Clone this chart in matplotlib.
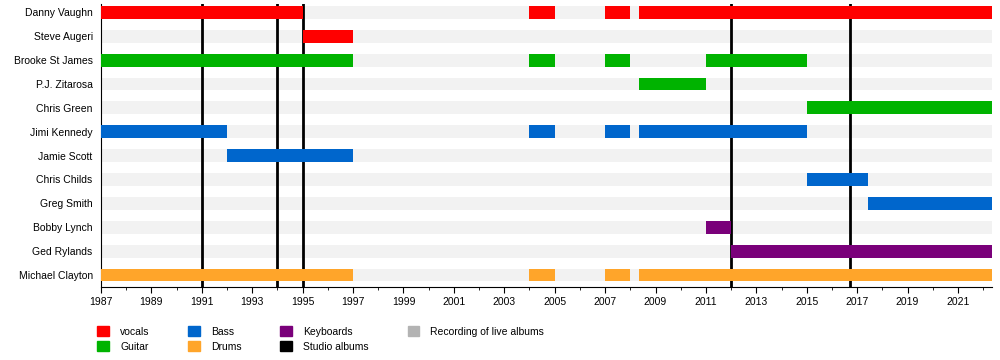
import matplotlib.pyplot as plt
from matplotlib.patches import Patch

plt.rcParams['font.family'] = ['Liberation Sans', 'DejaVu Sans']

start, end = 1987, 2022.35

members = ['Danny Vaughn', 'Steve Augeri', 'Brooke St James', 'P.J. Zitarosa',
           'Chris Green', 'Jimi Kennedy', 'Jamie Scott', 'Chris Childs',
           'Greg Smith', 'Bobby Lynch', 'Ged Rylands', 'Michael Clayton']

# spans (from, to) per member
danny = [(1987, 1995), (2004, 2005), (2007, 2008), (2008.35, end)]
steve = [(1995, 1997)]
brooke = [(1987, 1997), (2004, 2005), (2007, 2008), (2011, 2015)]
pj = [(2008.35, 2011)]
chris_green = [(2015, end)]
jimi = [(1987, 1992), (2004, 2005), (2007, 2008), (2008.35, 2015)]
jamie = [(1992, 1997)]
chris_childs = [(2015, 2017.45)]
greg = [(2017.45, end)]
bobby = [(2011, 2012)]
ged = [(2012, end)]
michael = [(1987, 1997), (2004, 2005), (2007, 2008), (2008.35, end)]

spans = [danny, steve, brooke, pj, chris_green, jimi, jamie, chris_childs,
         greg, bobby, ged, michael]
roles = ['vocals', 'vocals', 'Guitar', 'Guitar', 'Guitar', 'Bass', 'Bass',
         'Bass', 'Bass', 'Keyboards', 'Keyboards', 'Drums']

studio_albums = [1991, 1994, 1995, 2012, 2016.7]

colors = {'vocals': '#ff0000', 'Guitar': '#00b300', 'Bass': '#0066cc',
          'Drums': '#ffa52a', 'Keyboards': '#7a007a'}

fig = plt.figure(figsize=(10, 3.6), dpi=100)
ax = fig.add_axes([0.101, 0.203, 0.891, 0.786])

h = 0.54
for i, name in enumerate(members):
    ax.barh(i, end - start, left=start, height=h, color='#f2f2f2', zorder=1)
    for a, b in spans[i]:
        ax.barh(i, b - a, left=a, height=h, color=colors[roles[i]], zorder=3)

for yr in studio_albums:
    ax.axvline(yr, color='black', lw=2, zorder=2)

ax.set_xlim(start, end)
ax.set_ylim(11.5, -0.35)
ax.set_yticks(range(len(members)))
ax.set_yticklabels(members, fontsize=7.5)
ax.tick_params(axis='y', length=0, pad=6)
ax.set_xticks(range(1987, 2022, 2))
ax.set_xticks(range(1987, 2023), minor=True)
ax.tick_params(axis='x', labelsize=7.5, length=4, pad=3)
ax.tick_params(axis='x', which='minor', length=2)
for s in ['top', 'right']:
    ax.spines[s].set_visible(False)

handles = [Patch(color=colors['vocals'], label='vocals'),
           Patch(color=colors['Guitar'], label='Guitar'),
           Patch(color=colors['Bass'], label='Bass'),
           Patch(color=colors['Drums'], label='Drums'),
           Patch(color=colors['Keyboards'], label='Keyboards'),
           Patch(color='black', label='Studio albums'),
           Patch(color='#b3b3b3', label='Recording of live albums')]
fig.legend(handles=handles, ncol=4, loc='upper left', bbox_to_anchor=(0.088, 0.12),
           frameon=False, fontsize=7.5, handlelength=1.1, handleheight=1.1,
           handletextpad=1.1, columnspacing=3.7, labelspacing=0.45)

fig.savefig('out.png')
